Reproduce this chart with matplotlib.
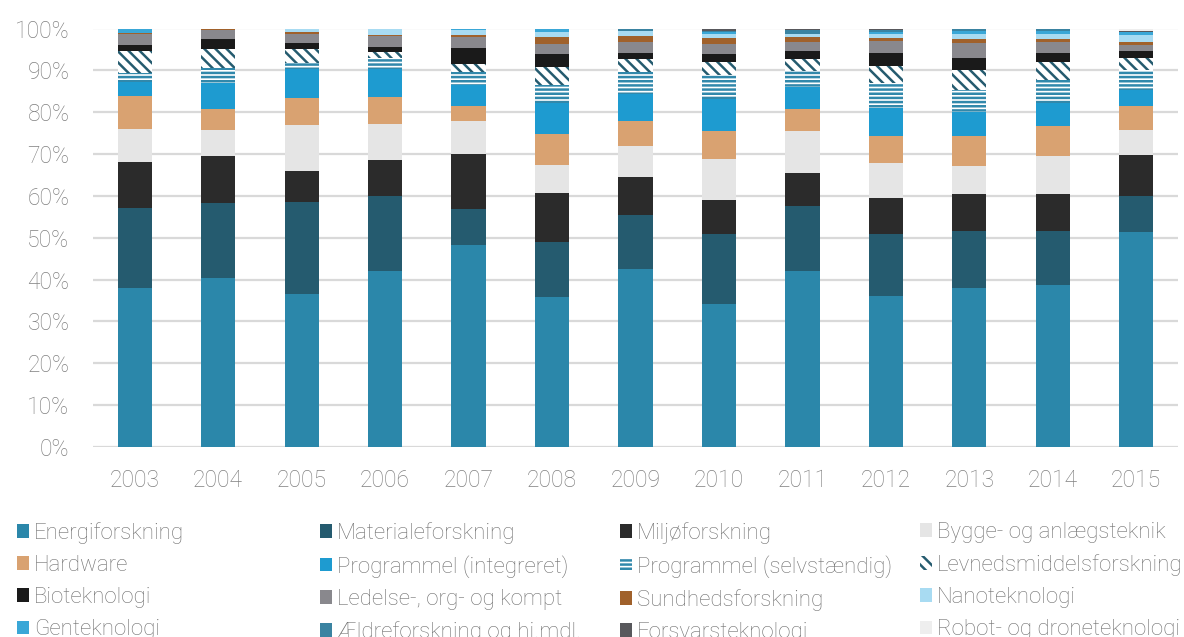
import numpy as np
import matplotlib.pyplot as plt
from matplotlib.patches import Patch

plt.rcParams['font.family'] = ['Roboto', 'DejaVu Sans']
plt.rcParams['font.weight'] = 'light'
plt.rcParams['hatch.linewidth'] = 1.8

years = ['2003', '2004', '2005', '2006', '2007', '2008', '2009',
         '2010', '2011', '2012', '2013', '2014', '2015']

# Andele i procent (nederst -> øverst i stakken)
energi     = [38.0, 40.4, 36.6, 42.1, 48.3, 35.8, 42.5, 34.2, 42.1, 36.1, 38.0, 38.9, 51.4]
materiale  = [19.2, 17.9, 21.9, 18.1,  8.6, 13.2, 12.9, 16.7, 15.5, 14.8, 13.6, 12.7,  8.8]
miljoe     = [10.9, 11.2,  7.5,  8.6, 13.1, 11.7,  9.1,  8.1,  7.9,  8.6,  8.9,  8.9,  9.6]
bygge      = [ 7.9,  6.3, 11.0,  8.6,  7.8,  6.7,  7.5,  9.8, 10.0,  8.4,  6.6,  9.1,  6.2]
hardware   = [ 7.8,  5.0,  6.4,  6.4,  3.6,  7.6,  5.8,  6.8,  5.2,  6.5,  7.1,  7.3,  5.6]
prog_int   = [ 3.4,  6.2,  7.0,  6.8,  5.0,  7.4,  6.5,  7.6,  5.3,  6.6,  5.8,  5.5,  3.9]
prog_selv  = [ 2.2,  3.6,  1.4,  2.5,  3.2,  4.2,  5.3,  5.6,  3.9,  5.9,  5.2,  5.4,  4.8]
levneds    = [ 5.3,  4.4,  3.3,  1.5,  1.8,  4.4,  3.1,  3.1,  2.9,  4.2,  4.8,  4.3,  2.9]
bio        = [ 1.3,  2.5,  1.5,  1.2,  4.0,  3.1,  1.5,  2.1,  1.8,  3.0,  3.0,  2.3,  1.6]
ledelse    = [ 2.6,  2.1,  2.2,  2.6,  2.5,  2.4,  2.5,  2.2,  2.1,  3.0,  3.6,  2.6,  1.4]
sundhed    = [ 0.4,  0.4,  0.3,  0.3,  0.5,  1.6,  1.5,  1.6,  1.3,  0.6,  1.0,  0.8,  0.8]
nano       = [ 0.0,  0.0,  0.9,  1.3,  1.3,  1.3,  1.3,  1.0,  0.8,  1.0,  1.2,  1.2,  1.6]
gen        = [ 1.0,  0.0,  0.0,  0.0,  0.3,  0.8,  0.0,  0.3,  0.0,  0.5,  0.5,  0.5,  0.8]
aeldre     = [ 0.0,  0.0,  0.0,  0.2,  0.0,  0.0,  0.5,  0.3,  0.8,  0.4,  0.7,  0.7,  0.0]
forsvar    = [ 0.0,  0.0,  0.0,  0.0,  0.0,  0.0,  0.0,  0.6,  0.4,  0.4,  0.0,  0.0,  0.3]
robot      = [ 0.0,  0.0,  0.0,  0.0,  0.0,  0.0,  0.0,  0.0,  0.0,  0.0,  0.0,  0.0,  0.5]

# (label, values, color, hatch) - same order as the legend, row by row
series = [
    ('Energiforskning', energi, '#2b87aa', None),
    ('Materialeforskning', materiale, '#255b6f', None),
    ('Miljøforskning', miljoe, '#2b2b2b', None),
    ('Bygge- og anlægsteknik', bygge, '#e5e5e5', None),
    ('Hardware', hardware, '#d9a271', None),
    ('Programmel (integreret)', prog_int, '#1e9bd0', None),
    ('Programmel (selvstændig)', prog_selv, '#3188ab', '----'),
    ('Levnedsmiddelsforskning', levneds, '#255b6f', '\\\\\\'),
    ('Bioteknologi', bio, '#1a1a1a', None),
    ('Ledelse-, org- og kompt', ledelse, '#89888d', None),
    ('Sundhedsforskning', sundhed, '#a0612b', None),
    ('Nanoteknologi', nano, '#a8dbf2', None),
    ('Genteknologi', gen, '#3aa7d7', None),
    ('Ældreforskning og hj.mdl.', aeldre, '#3a83a1', None),
    ('Forsvarsteknologi', forsvar, '#58585c', None),
    ('Robot- og droneteknologi', robot, '#eeeeee', None),
]

data = np.array([s[1] for s in series])
shares = data / data.sum(axis=0) * 100

fig = plt.figure(figsize=(11.84, 6.37), dpi=100)
ax = fig.add_axes([93 / 1184, 1 - 447 / 637, 1085 / 1184, 418.5 / 637])

x = np.arange(len(years))
bottom = np.zeros(len(years))
handles = []
for (label, _, color, hatch), vals in zip(series, shares):
    if hatch:
        ax.bar(x, vals, 0.41, bottom=bottom, color='white', edgecolor=color,
               hatch=hatch, linewidth=0, zorder=3)
        handles.append(Patch(facecolor='white', edgecolor=color, hatch=hatch,
                             linewidth=0, label=label))
    else:
        ax.bar(x, vals, 0.41, bottom=bottom, color=color, linewidth=0, zorder=3)
        handles.append(Patch(facecolor=color, linewidth=0, label=label))
    bottom += vals

ax.set_xlim(-0.5, len(years) - 0.5)
ax.set_ylim(0, 100)
ax.set_yticks(np.arange(0, 101, 10))
ax.set_yticklabels([f'{v}%' for v in range(0, 101, 10)])
ax.set_xticks(x)
ax.set_xticklabels(years)
ax.tick_params(axis='both', length=0, labelsize=16.5, labelcolor='#808080')
ax.tick_params(axis='y', pad=17)
ax.tick_params(axis='x', pad=16)
ax.grid(axis='y', color='#d9d9d9', linewidth=1.6, zorder=0)
ax.set_axisbelow(True)
for sp in ax.spines.values():
    sp.set_visible(False)

# legend: four separate columns, row-major order like the original
col_x = [17, 320, 620, 920]
for c in range(4):
    hs = [handles[r * 4 + c] for r in range(4)]
    leg = fig.legend(handles=hs, loc='upper left',
                     bbox_to_anchor=(col_x[c] / 1184, 1 - 522 / 637),
                     frameon=False, fontsize=16, handlelength=0.56,
                     handleheight=0.56, handletextpad=0.2, labelspacing=0.5,
                     borderpad=0, borderaxespad=0)
    for t in leg.get_texts():
        t.set_color('#707070')

fig.savefig('out.png', dpi=100)
